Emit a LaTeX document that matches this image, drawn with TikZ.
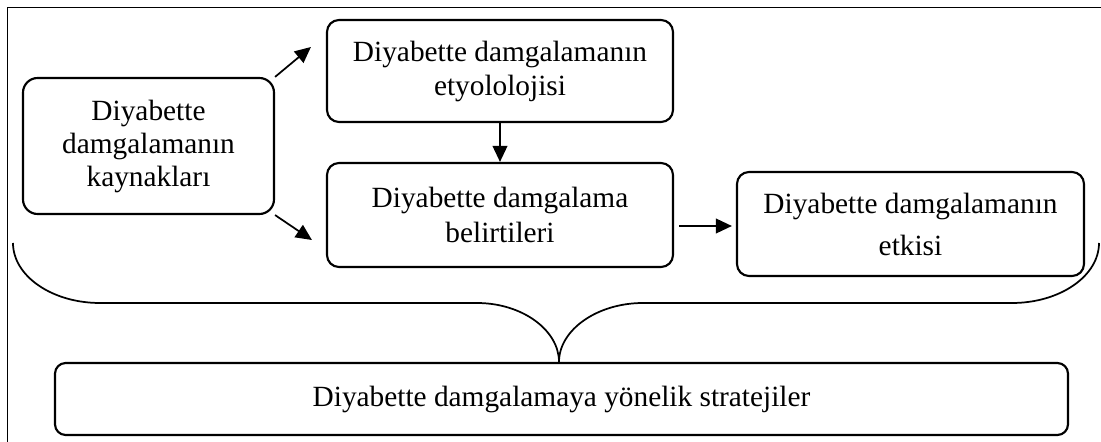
\documentclass[tikz,border=0pt]{standalone}
\usepackage{fontspec}
\setmainfont{Liberation Serif}
\usetikzlibrary{arrows.meta,calc}
\begin{document}
\begin{tikzpicture}[x=0.75pt,y=-0.75pt,
  box/.style={draw,line width=1.6pt,rounded corners=9pt,inner sep=0pt,align=center},
  txt/.style={font=\fontsize{22}{#1}\selectfont},
  arr/.style={line width=1.3pt,-{Triangle[length=12pt,width=11pt]}},
  brace/.style={line width=1.3pt},
  frame/.style={line width=1pt}]
\useasboundingbox (0,0) rectangle (1101,442);
% outer frame (left and top sides)
\draw[frame] (7.5,442) -- (7.5,7.5) -- (1101,7.5);

% boxes
\node[box,txt=24.75pt,rounded corners=11pt,minimum width=188.25pt,minimum height=102pt] (A) at (148.5,146)
  {Diyabette\\damgalamanın\\kaynakları};
\node[box,txt=25.5pt,minimum width=259.5pt,minimum height=76.5pt] (B) at (500,71)
  {Diyabette damgalamanın\\etyololojisi};
\node[box,txt=26.25pt,minimum width=259.5pt,minimum height=78pt] (C) at (500,215)
  {Diyabette damgalama\\belirtileri};
\node[box,txt=31.5pt,minimum width=260.25pt,minimum height=78pt] (D) at (910.5,224)
  {Diyabette damgalamanın\\etkisi};
\node[box,txt=25pt,rounded corners=8pt,minimum width=759.75pt,minimum height=54pt] (E) at (561.5,399)
  {Diyabette damgalamaya yönelik stratejiler};

% arrows
\draw[arr] (A.north east) -- ($(B.west)+(-15,-24)$);
\draw[arr] (A.south east) -- ($(C.west)+(-14,25)$);
\draw[arr] (B.south) -- (C.north);
\draw[arr] ($(C.east)+(5,11)$) -- ($(D.west)+(-4,2)$);

% brace gathering the upper row into the strategies box
\coordinate (cusp) at ($(E.north)+(-2.5,0)$);
\draw[brace] (13,243) .. controls (13,276) and (52,303) .. (100,303)
  -- (477,303) .. controls (522,303) and (559,330) .. (cusp)
  .. controls (559,330) and (597,303) .. (643,303)
  -- (1012,303) .. controls (1060,303) and (1099,276) .. (1099,243);
\end{tikzpicture}
\end{document}
